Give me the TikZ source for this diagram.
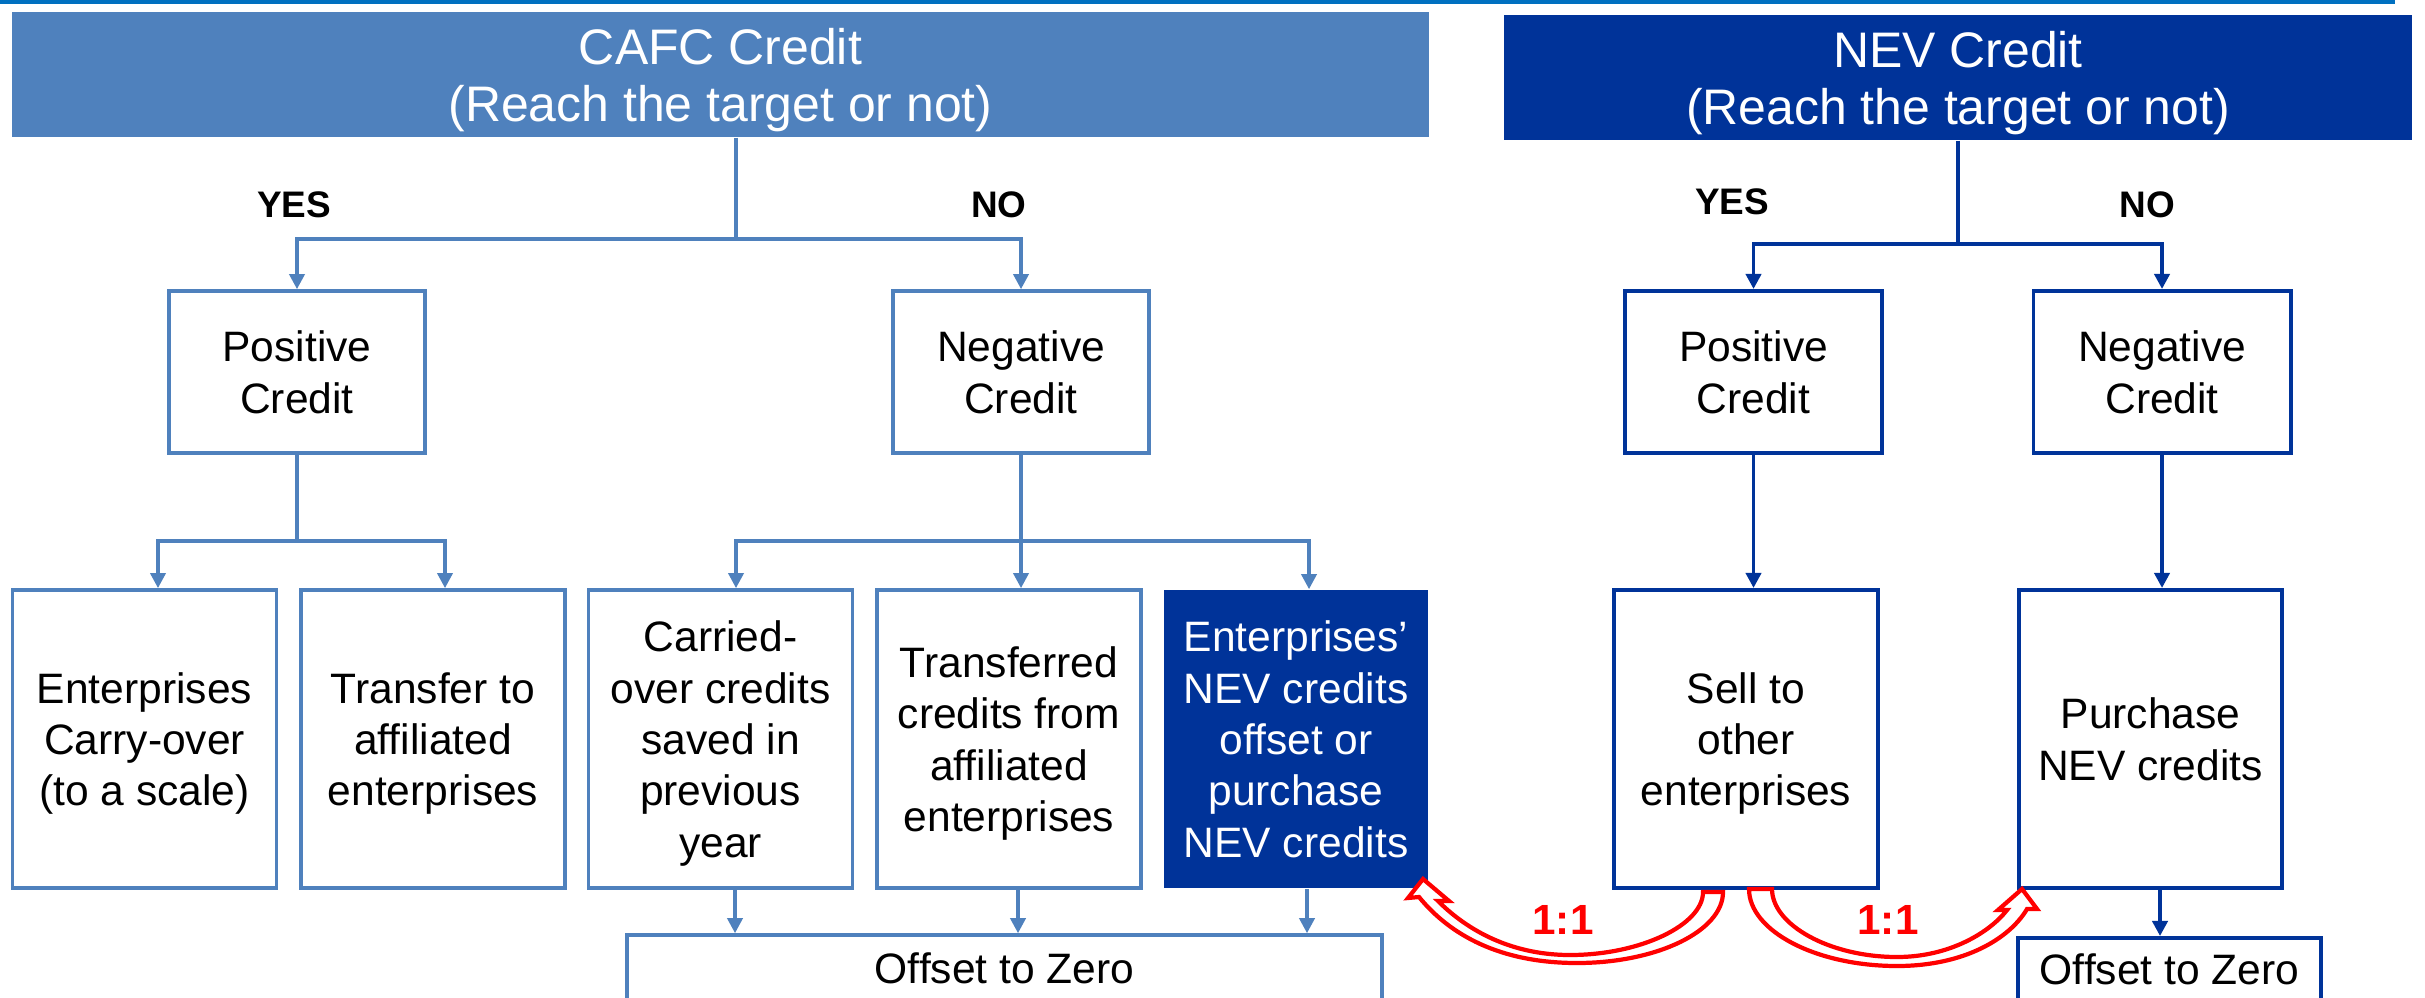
\documentclass[tikz,border=0pt]{standalone}
\usepackage{fontspec}
\setmainfont{Liberation Sans}
\usetikzlibrary{arrows.meta}
\definecolor{topblue}{HTML}{0070C0}
\definecolor{cafc}{HTML}{4F81BD}
\definecolor{nev}{HTML}{003399}
\begin{document}
\begin{tikzpicture}[
    x=0.01cm, y=-0.01cm,
    every node/.style={font=\fontsize{12.1}{14.6}\selectfont, align=center, inner sep=0pt, text depth=0pt},
    hdr/.style={text=white, font=\fontsize{14.2}{16.2}\selectfont, minimum height=1.25cm},
    cbox/.style={draw=cafc, line width=1pt, minimum width=2.56cm, minimum height=1.62cm},
    nbox/.style={draw=nev, line width=1.1pt, minimum width=2.57cm, minimum height=1.62cm},
    tall/.style={minimum width=2.64cm, minimum height=2.98cm},
    yn/.style={font=\fontsize{10.5}{12}\selectfont\bfseries},
    ratio/.style={text=red, font=\fontsize{12}{14}\selectfont\bfseries},
    cline/.style={draw=cafc, line width=1pt},
    nline/.style={draw=nev, line width=1.1pt},
    carr/.style={cline, -{Triangle[length=4.3pt,width=4.3pt]}},
    narr/.style={nline, -{Triangle[length=4.3pt,width=4.3pt]}},
    hollow/.style={draw=red, line width=1.2pt, fill=white}
]
\path[use as bounding box, clip] (0,0) rectangle (2425,997);

\draw[topblue, line width=1pt] (0,1.75) -- (2395,1.75);

\node[hdr, fill=cafc, minimum width=14.17cm] (chead) at (720.5,74.5) {CAFC Credit\\(Reach the target or not)};
\node[hdr, fill=nev, minimum width=9.08cm] (nhead) at (1958,77.5) {NEV Credit\\(Reach the target or not)};

\node[yn] (cyes) at (294,205) {YES};
\node[yn] (cno) at (999,205) {NO};
\node[yn] (nyes) at (1732,202) {YES};
\node[yn] (nno) at (2147,205) {NO};

\node[cbox] (cpos) at (297,372) {Positive\\Credit};
\node[cbox] (cneg) at (1021,372) {Negative\\Credit};
\node[nbox] (npos) at (1753.5,372) {Positive\\Credit};
\node[nbox] (nneg) at (2162,372) {Negative\\Credit};

\node[cbox, tall] (carry) at (144.5,739) {Enterprises\\Carry-over\\(to a scale)};
\node[cbox, tall] (transto) at (433,739) {Transfer to\\affiliated\\enterprises};
\node[cbox, tall] (saved) at (720.5,739) {Carried-\\over credits\\saved in\\previous\\year};
\node[cbox, tall] (transfrom) at (1009,739) {Transferred\\credits from\\affiliated\\enterprises};
\node[tall, fill=nev, text=white] (offbuy) at (1296,739) {Enterprises’\\NEV credits\\offset or\\purchase\\NEV credits};
\node[nbox, tall] (nsell) at (1746,739) {Sell to\\other\\enterprises};
\node[nbox, tall, minimum width=2.63cm] (nbuy) at (2150.5,739) {Purchase\\NEV credits};

\node[cbox, minimum width=7.55cm, minimum height=0.66cm] (coff) at (1004.5,968) {Offset to Zero};
\node[nbox, minimum width=3.03cm, minimum height=0.62cm] (noff) at (2169.5,969) {Offset to Zero};

\coordinate (csplit) at (736,239);
\coordinate (psplit) at (297,541);
\coordinate (msplit) at (1021,541);
\coordinate (vsplit) at (1958,244);

\draw[cline] (chead.south -| csplit) -- (csplit);
\draw[carr] (csplit) -| (cpos.north);
\draw[carr] (csplit) -| (cneg.north);

\draw[cline] (cpos.south) -- (psplit);
\draw[carr] (psplit) -| (carry.north -| 158,0);
\draw[carr] (psplit) -| (transto.north -| 445,0);

\draw[cline] (cneg.south) -- (msplit);
\draw[carr] (msplit) -| (saved.north -| 736,0);
\draw[carr] (msplit) -- (transfrom.north -| msplit);
\draw[carr] (msplit) -| (offbuy.north -| 1309,0);

\draw[carr] (saved.south -| 735,0) -- (coff.north -| 735,0);
\draw[carr] (transfrom.south -| 1018,0) -- (coff.north -| 1018,0);
\draw[carr] (offbuy.south -| 1307,0) -- (coff.north -| 1307,0);

\draw[nline] (nhead.south) -- (vsplit);
\draw[narr] (vsplit) -| (npos.north);
\draw[narr] (vsplit) -| (nneg.north);
\draw[narr] (npos.south) -- (npos.south |- nsell.north);
\draw[narr] (nneg.south) -- (nneg.south |- nbuy.north);
\draw[narr] (nbuy.south -| 2160,0) -- (noff.north -| 2160,0);

\draw[hollow] (1703,892) -- (1723,892)
  .. controls (1723,931) and (1657,963) .. (1577,963)
  .. controls (1500,963) and (1450,935) .. (1419,897)
  -- (1408,898) -- (1423,879) -- (1449,901) -- (1438,901)
  .. controls (1462,925) and (1505,955) .. (1570,955)
  .. controls (1640,955) and (1703,925) .. (1703,892) -- cycle;
\draw[hollow] (1749,889) -- (1772,889)
  .. controls (1772,925) and (1830,957) .. (1897,957)
  .. controls (1950,957) and (1990,932) .. (2007,910)
  -- (1998,910) -- (2022,889) -- (2037,909) -- (2027,909)
  .. controls (2010,938) and (1965,966) .. (1897,966)
  .. controls (1816,966) and (1749,931) .. (1749,889) -- cycle;

\node[ratio] (lratio) at (1563,920) {1:1};
\node[ratio] (rratio) at (1888,920) {1:1};
\end{tikzpicture}
\end{document}
